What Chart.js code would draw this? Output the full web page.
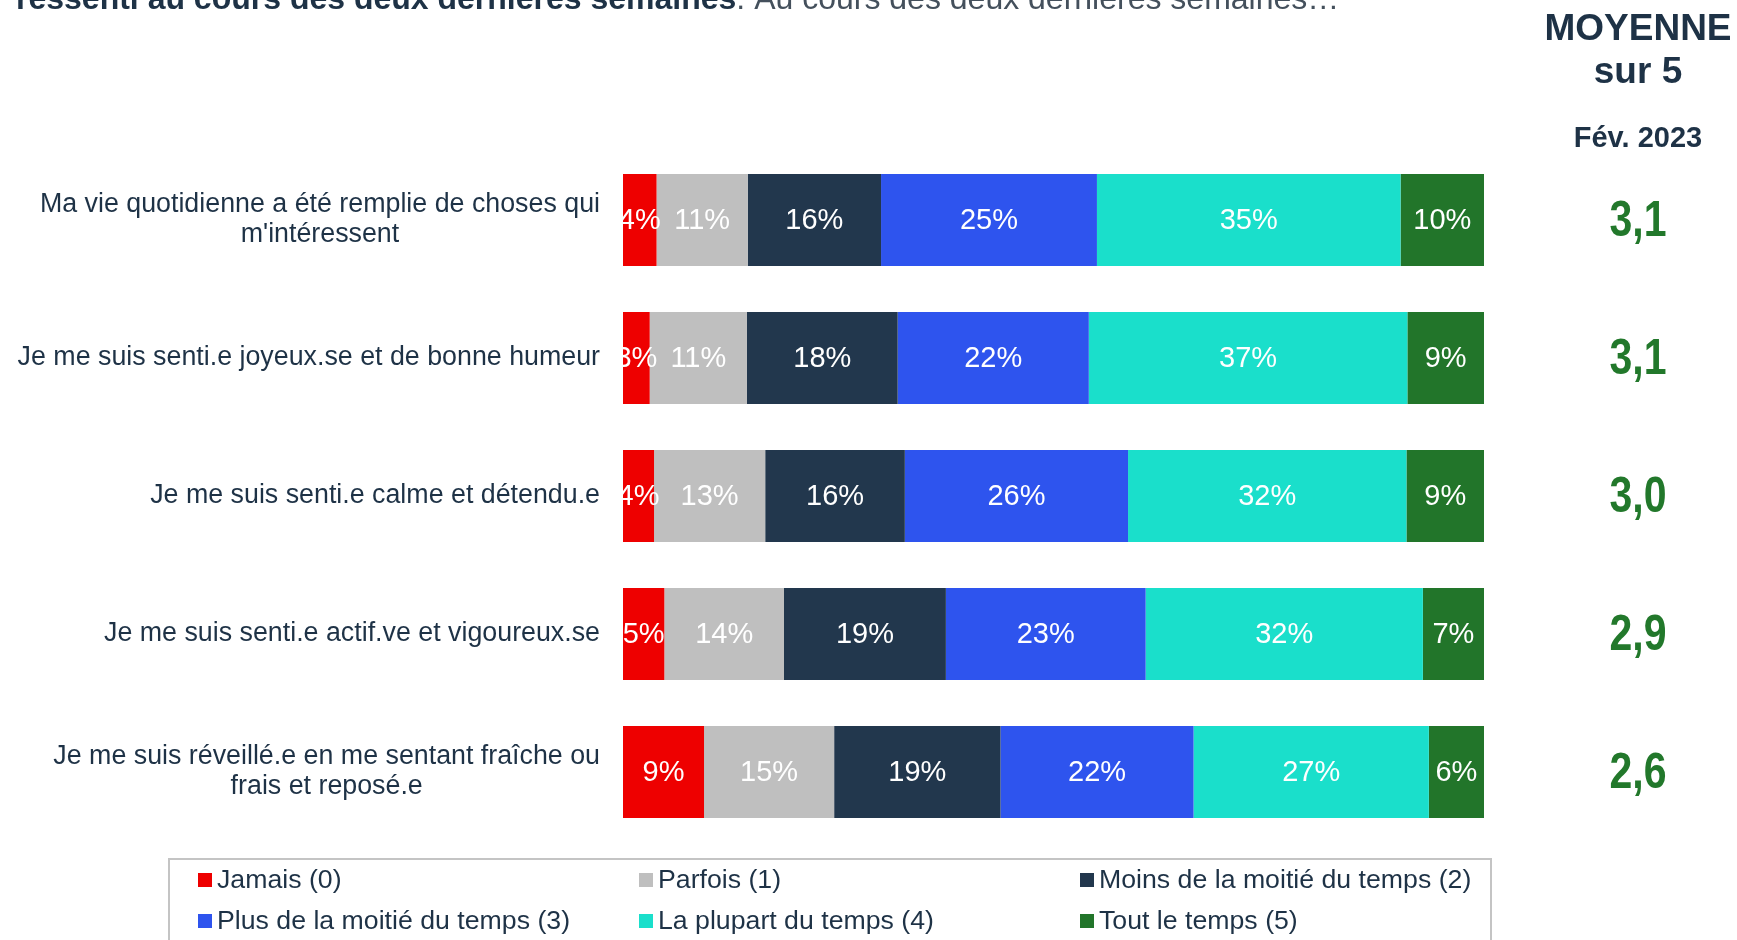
<!DOCTYPE html>
<html lang="fr">
<head>
<meta charset="utf-8">
<title>Moyenne sur 5 - Fév. 2023</title>
<script src="https://cdn.jsdelivr.net/npm/chart.js@4/dist/chart.umd.min.js"></script>
<style>
  html, body { margin: 0; padding: 0; background: #ffffff; }
  canvas { display: block; }
</style>
</head>
<body>
<canvas id="wellbeingChart" width="1737" height="940"></canvas>
<script>
// Categories (one row per statement)
const categories = [
  ['Ma vie quotidienne a été remplie de choses qui', "m'intéressent"],
  ['Je me suis senti.e joyeux.se et de bonne humeur'],
  ['Je me suis senti.e calme et détendu.e'],
  ['Je me suis senti.e actif.ve et vigoureux.se'],
  ['Je me suis réveillé.e en me sentant fraîche ou', 'frais et reposé.e']
];

// Series names (legend)
const seriesNames = [
  'Jamais (0)',
  'Parfois (1)',
  'Moins de la moitié du temps (2)',
  'Plus de la moitié du temps (3)',
  'La plupart du temps (4)',
  'Tout le temps (5)'
];

// Values in % (printed rounded)
const jamais      = [3.9, 3.1, 3.6, 4.8, 9.4];
const parfois     = [10.6, 11.3, 12.9, 13.9, 15.1];
const moins       = [15.5, 17.5, 16.2, 18.8, 19.3];
const plus        = [25.1, 22.2, 25.9, 23.2, 22.4];
const plupart     = [35.3, 37.0, 32.3, 32.2, 27.3];
const toutLeTemps = [9.7, 8.9, 9.0, 7.1, 6.4];

// Average score out of 5
const moyennes = [3.1, 3.1, 3.0, 2.9, 2.6];

const seriesColors = ['#EE0000', '#BFBFBF', '#22374D', '#2E54EE', '#1ADFCB', '#22752A'];

const FONT = '"Liberation Sans", Arial, sans-serif';
const TEXT = '#1E3246';
const GREEN = '#22782B';

const allSeries = [jamais, parfois, moins, plus, plupart, toutLeTemps];

// Each bar fills the full width, so rescale each row to its own total
const rowTotals = categories.map((_, i) => allSeries.reduce((s, arr) => s + arr[i], 0));

const datasets = allSeries.map((values, k) => ({
  label: seriesNames[k],
  data: values.map((v, i) => v / rowTotals[i] * 100),
  raw: values,
  backgroundColor: seriesColors[k],
  borderWidth: 0,
  categoryPercentage: 1,
  barPercentage: 0.667
}));

// Draws labels, header, averages and legend
const decorPlugin = {
  id: 'decor',
  afterDatasetsDraw(chart) {
    const ctx = chart.ctx;
    const yScale = chart.scales.y;

    ctx.save();

    // value labels inside bars
    ctx.fillStyle = '#ffffff';
    ctx.font = '29px ' + FONT;
    ctx.textAlign = 'center';
    ctx.textBaseline = 'middle';
    chart.data.datasets.forEach((ds, k) => {
      chart.getDatasetMeta(k).data.forEach((bar, i) => {
        const p = bar.getProps(['x', 'base', 'y'], true);
        ctx.fillText(Math.round(ds.raw[i]) + '%', (p.x + p.base) / 2, p.y + 1);
      });
    });

    // category labels, block right-aligned, lines centred inside the block
    ctx.fillStyle = TEXT;
    ctx.font = '26.8px ' + FONT;
    const rightEdge = 600;
    const lineH = 30;
    categories.forEach((lines, i) => {
      const y = yScale.getPixelForValue(i);
      const w = Math.max(...lines.map(l => ctx.measureText(l).width));
      const cx = rightEdge - w / 2;
      lines.forEach((line, j) => {
        const ly = y + (j - (lines.length - 1) / 2) * lineH;
        ctx.fillText(line, cx, ly);
      });
    });

    // right column header
    const colX = 1638;
    ctx.textBaseline = 'alphabetic';
    ctx.font = 'bold 37px ' + FONT;
    ctx.fillText('MOYENNE', colX, 40);
    ctx.fillText('sur 5', colX, 83);
    ctx.font = 'bold 29px ' + FONT;
    ctx.fillText('Fév. 2023', colX, 147);

    // averages (condensed bold green)
    ctx.fillStyle = GREEN;
    ctx.font = 'bold 50px ' + FONT;
    ctx.textBaseline = 'middle';
    moyennes.forEach((m, i) => {
      const y = yScale.getPixelForValue(i);
      ctx.save();
      ctx.translate(colX, y + 2);
      ctx.scale(0.82, 1);
      ctx.fillText(m.toFixed(1).replace('.', ','), 0, 0);
      ctx.restore();
    });

    // title, cut at the top of the picture
    ctx.textAlign = 'left';
    ctx.textBaseline = 'alphabetic';
    ctx.fillStyle = TEXT;
    ctx.font = 'bold 32px ' + FONT;
    const t1 = 'ressenti au cours des deux dernières semaines';
    ctx.fillText(t1, 16, 9);
    const w1 = ctx.measureText(t1).width;
    ctx.font = '32px ' + FONT;
    ctx.fillStyle = '#44505C';
    ctx.fillText('. Au cours des deux dernières semaines…', 16 + w1, 9);

    // legend box
    ctx.strokeStyle = '#C4C4C4';
    ctx.lineWidth = 2;
    ctx.strokeRect(169, 859, 1322, 120);
    const colXs = [198, 639, 1080];
    const rowYs = [880, 921];
    ctx.font = '26.7px ' + FONT;
    ctx.textBaseline = 'middle';
    seriesNames.forEach((name, k) => {
      const x = colXs[k % 3];
      const y = rowYs[Math.floor(k / 3)];
      ctx.fillStyle = seriesColors[k];
      ctx.fillRect(x, y - 7, 14, 14);
      ctx.fillStyle = TEXT;
      ctx.fillText(name, x + 19, y + 1);
    });

    ctx.restore();
  }
};

const ctx = document.getElementById('wellbeingChart').getContext('2d');

new Chart(ctx, {
  type: 'bar',
  data: {
    labels: categories,
    datasets: datasets
  },
  options: {
    indexAxis: 'y',
    responsive: false,
    animation: false,
    layout: {
      padding: { left: 623, right: 253, top: 151, bottom: 99 }
    },
    plugins: {
      legend: { display: false },
      tooltip: { enabled: false }
    },
    scales: {
      x: { stacked: true, min: 0, max: 100, display: false },
      y: { stacked: true, display: false }
    }
  },
  plugins: [decorPlugin]
});
</script>
</body>
</html>
